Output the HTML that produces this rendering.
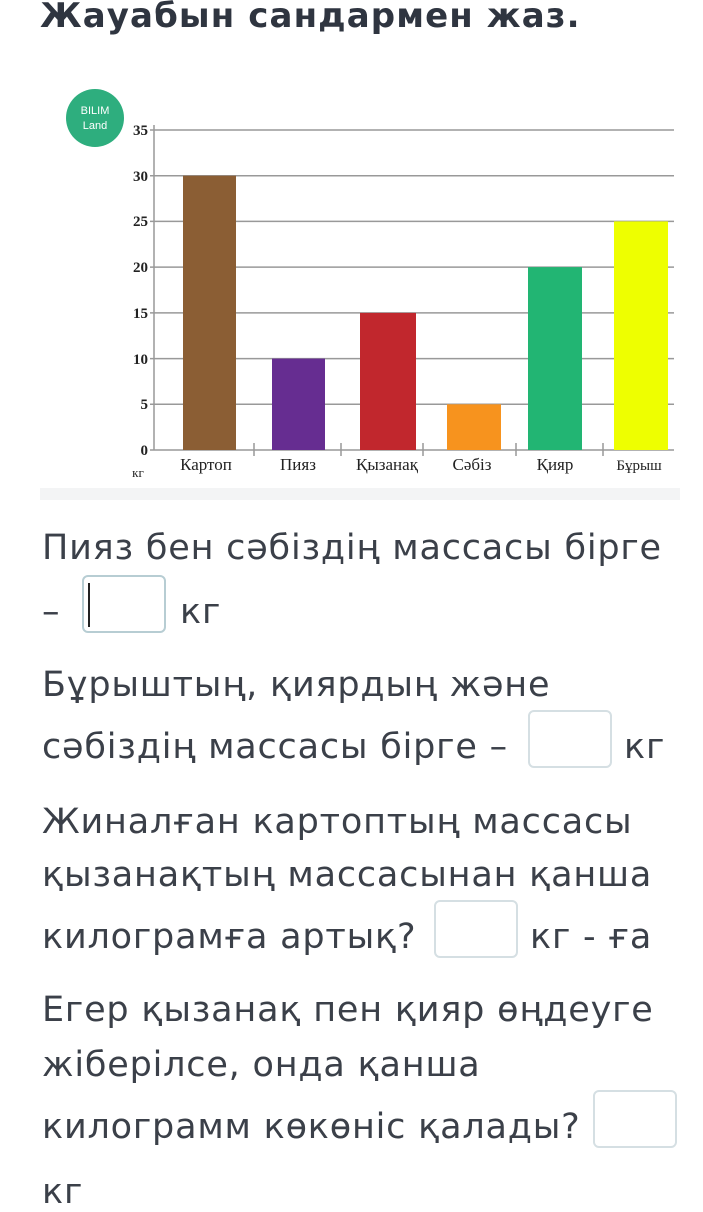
<!DOCTYPE html>
<html><head><meta charset="utf-8"><style>
body{margin:0;width:703px;height:1177px;background:#fff;overflow:hidden;position:relative;font-family:"DejaVu Sans","Liberation Sans",sans-serif;color:#3b4049}
.t{position:absolute;left:42px;font-size:35px;white-space:nowrap;line-height:40px;letter-spacing:0.8px}
.box{position:absolute;width:84px;height:58px;border:2px solid #d5dfe3;border-radius:6px;box-sizing:border-box}
</style></head><body>
<div style="position:absolute;left:40px;top:-4px;font-size:34px;font-weight:bold;color:#2f3540;letter-spacing:1.1px">Жауабын сандармен жаз.</div>
<div style="position:absolute;left:40px;top:488px;width:640px;height:12px;background:#f3f4f5"></div>
<svg style="position:absolute;left:0;top:0" width="703" height="500">
<circle cx="95" cy="118" r="29" fill="#2eae7e"/>
<text x="95" y="114" font-size="11" fill="#fff" text-anchor="middle" font-family="Liberation Sans">BILIM</text>
<text x="95" y="129" font-size="11" fill="#fff" text-anchor="middle" font-family="Liberation Sans">Land</text>
<g stroke="#999" stroke-width="1.5">
<line x1="150" y1="130" x2="674" y2="130"/><line x1="150" y1="175.7" x2="674" y2="175.7"/>
<line x1="150" y1="221.4" x2="674" y2="221.4"/><line x1="150" y1="267.1" x2="674" y2="267.1"/>
<line x1="150" y1="312.9" x2="674" y2="312.9"/><line x1="150" y1="358.6" x2="674" y2="358.6"/>
<line x1="150" y1="404.3" x2="674" y2="404.3"/><line x1="150" y1="450" x2="674" y2="450"/>
<line x1="154" y1="125" x2="154" y2="450"/>
<line x1="254" y1="443" x2="254" y2="456"/><line x1="341" y1="443" x2="341" y2="456"/>
<line x1="423" y1="443" x2="423" y2="456"/><line x1="516" y1="443" x2="516" y2="456"/><line x1="603" y1="443" x2="603" y2="456"/>
</g>
<rect x="183" y="175.7" width="53" height="274.3" fill="#8b5e34"/>
<rect x="272" y="358.6" width="53" height="91.4" fill="#662d91"/>
<rect x="360" y="312.9" width="56" height="137.1" fill="#c1272d"/>
<rect x="447" y="404.3" width="54" height="45.7" fill="#f7931e"/>
<rect x="528" y="267.1" width="54" height="182.9" fill="#22b573"/>
<rect x="614" y="221.4" width="54" height="228.6" fill="#eeff00"/>
<g font-family="Liberation Serif" font-size="15" fill="#222" text-anchor="end" font-weight="bold">
<text x="148" y="135">35</text><text x="148" y="181">30</text><text x="148" y="226">25</text>
<text x="148" y="272">20</text><text x="148" y="318">15</text><text x="148" y="364">10</text>
<text x="148" y="409">5</text><text x="148" y="455">0</text></g>
<g font-family="Liberation Serif" font-size="17" fill="#222" text-anchor="middle">
<text x="206" y="470">Картоп</text><text x="298" y="470">Пияз</text><text x="387" y="470">Қызанақ</text>
<text x="472" y="470">Сәбіз</text><text x="555" y="470">Қияр</text><text x="639" y="470" font-size="15">Бұрыш</text>
<text x="138" y="477" font-size="13">кг</text></g>
</svg>
<div class="t" style="top:528px">Пияз бен сәбіздің массасы бірге</div>
<div class="t" style="top:592px">–</div>
<div class="box" style="left:82px;top:575px;border-color:#b7cdd3"></div>
<div style="position:absolute;left:88px;top:583px;width:2px;height:44px;background:#222"></div>
<div class="t" style="left:180px;top:592px">кг</div>
<div class="t" style="top:665px">Бұрыштың, қиярдың және</div>
<div class="t" style="top:727px">сәбіздің массасы бірге –</div>
<div class="box" style="left:528px;top:710px"></div>
<div class="t" style="left:624px;top:727px">кг</div>
<div class="t" style="top:802px">Жиналған картоптың массасы</div>
<div class="t" style="top:855px">қызанақтың массасынан қанша</div>
<div class="t" style="top:917px">килограмға артық?</div>
<div class="box" style="left:434px;top:900px"></div>
<div class="t" style="left:530px;top:917px">кг - ға</div>
<div class="t" style="top:990px">Егер қызанақ пен қияр өңдеуге</div>
<div class="t" style="top:1045px">жіберілсе, онда қанша</div>
<div class="t" style="top:1107px">килограмм көкөніс қалады?</div>
<div class="box" style="left:593px;top:1090px"></div>
<div class="t" style="top:1172px">кг</div>
</body></html>
